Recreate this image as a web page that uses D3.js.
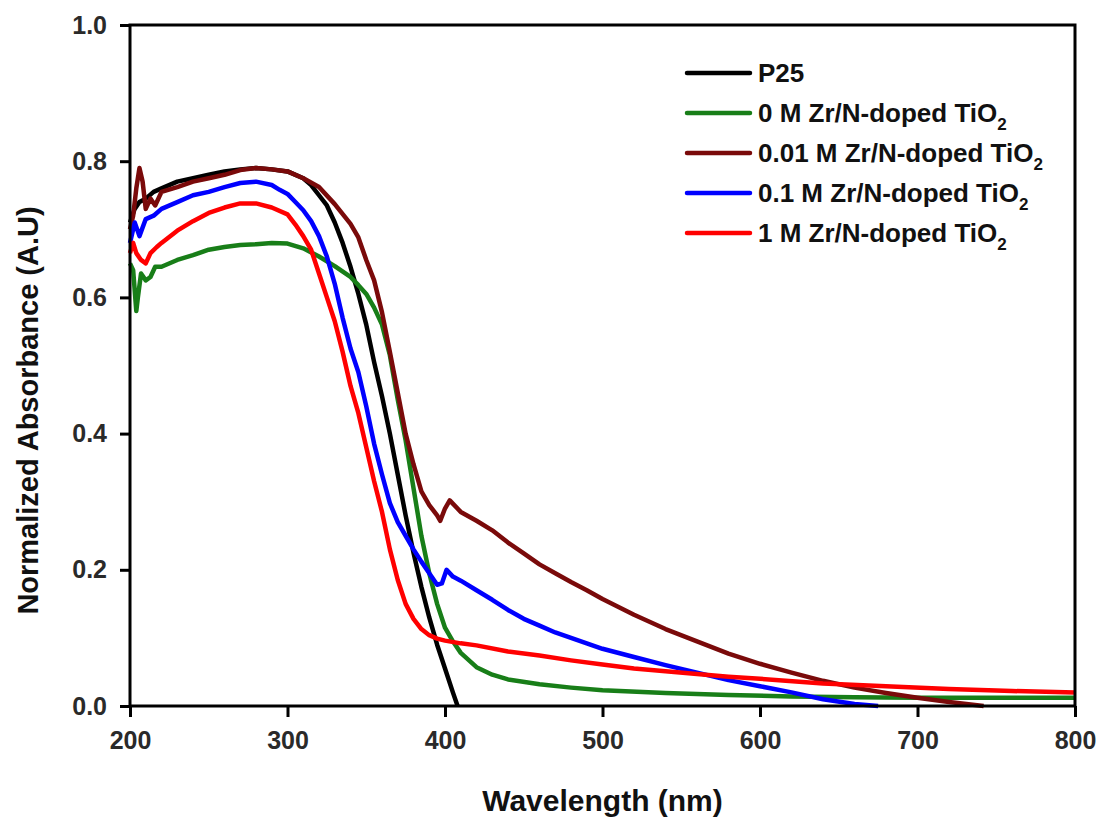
<!DOCTYPE html>
<html>
<head>
<meta charset="utf-8">
<script src="https://cdn.jsdelivr.net/npm/d3@7"></script>
<style>
  body { margin: 0; background: #fff; }
  text { font-family: "Liberation Sans", Arial, sans-serif; font-weight: bold; }
</style>
</head>
<body>
<div id="chart"></div>
<script>
// wavelength (nm), normalized absorbance
var p25 = [[200,0.71],[203,0.73],[206,0.74],[210,0.745],[215,0.755],[220,0.76],[230,0.77],[240,0.775],[250,0.78],[260,0.785],[270,0.788],[280,0.79],[290,0.788],[300,0.785],[310,0.775],[315,0.765],[320,0.75],[325,0.735],[330,0.71],[335,0.68],[340,0.645],[345,0.605],[350,0.56],[355,0.505],[360,0.455],[365,0.40],[370,0.34],[375,0.28],[380,0.225],[385,0.175],[390,0.13],[395,0.09],[400,0.055],[405,0.02],[408,0.0]];

var zr0 = [[200,0.65],[202,0.64],[204,0.58],[205,0.60],[207,0.635],[210,0.625],[213,0.63],[216,0.645],[220,0.645],[230,0.655],[240,0.662],[250,0.67],[260,0.674],[270,0.677],[280,0.678],[290,0.68],[300,0.679],[310,0.672],[320,0.66],[330,0.646],[340,0.63],[345,0.618],[350,0.605],[355,0.585],[360,0.56],[365,0.515],[370,0.45],[375,0.39],[380,0.32],[385,0.25],[390,0.195],[395,0.15],[400,0.115],[405,0.095],[410,0.078],[420,0.057],[430,0.046],[440,0.039],[460,0.032],[480,0.027],[500,0.023],[540,0.019],[580,0.016],[620,0.014],[660,0.013],[700,0.012],[800,0.012]];

var zr001 = [[200,0.70],[202,0.72],[204,0.76],[206,0.79],[208,0.77],[210,0.73],[213,0.745],[216,0.735],[220,0.755],[230,0.762],[240,0.77],[250,0.775],[260,0.78],[270,0.787],[280,0.79],[290,0.788],[300,0.785],[310,0.775],[320,0.762],[330,0.737],[340,0.708],[345,0.688],[350,0.655],[355,0.625],[360,0.578],[365,0.52],[370,0.46],[375,0.40],[380,0.355],[385,0.315],[390,0.295],[395,0.28],[397,0.272],[400,0.29],[403,0.302],[410,0.285],[420,0.272],[430,0.258],[440,0.24],[450,0.224],[460,0.208],[470,0.195],[480,0.182],[490,0.17],[500,0.157],[520,0.134],[540,0.113],[560,0.095],[580,0.077],[600,0.062],[620,0.049],[640,0.037],[660,0.027],[680,0.019],[700,0.012],[720,0.006],[742,0.0]];

var zr01 = [[200,0.68],[203,0.71],[206,0.69],[210,0.715],[215,0.72],[220,0.73],[230,0.74],[240,0.75],[250,0.755],[260,0.762],[270,0.768],[280,0.77],[290,0.765],[295,0.758],[300,0.752],[305,0.74],[310,0.728],[315,0.712],[320,0.69],[325,0.66],[330,0.62],[335,0.57],[340,0.525],[345,0.49],[350,0.44],[355,0.385],[360,0.34],[365,0.298],[370,0.27],[375,0.25],[380,0.23],[385,0.212],[390,0.195],[395,0.178],[398,0.18],[401,0.20],[405,0.19],[410,0.184],[420,0.17],[430,0.156],[440,0.141],[450,0.128],[460,0.118],[470,0.108],[480,0.1],[490,0.092],[500,0.084],[520,0.072],[540,0.06],[560,0.049],[580,0.038],[600,0.029],[620,0.02],[640,0.01],[660,0.003],[675,0.0]];

var zr1 = [[200,0.665],[202,0.68],[204,0.665],[207,0.655],[210,0.65],[213,0.665],[217,0.674],[220,0.68],[230,0.698],[240,0.712],[250,0.724],[260,0.732],[270,0.738],[280,0.738],[290,0.732],[300,0.722],[305,0.707],[310,0.69],[315,0.67],[320,0.635],[325,0.60],[330,0.565],[335,0.52],[340,0.47],[345,0.43],[350,0.38],[355,0.33],[360,0.285],[365,0.23],[370,0.185],[375,0.15],[380,0.128],[385,0.113],[390,0.104],[395,0.099],[400,0.096],[410,0.092],[420,0.089],[440,0.08],[460,0.074],[480,0.067],[500,0.061],[520,0.055],[540,0.051],[560,0.047],[580,0.043],[600,0.04],[640,0.033],[680,0.029],[720,0.025],[760,0.022],[800,0.02]];

var seriesNames = ["P25", "0 M Zr/N-doped TiO", "0.01 M Zr/N-doped TiO", "0.1 M Zr/N-doped TiO", "1 M Zr/N-doped TiO"];
var seriesSub = ["", "2", "2", "2", "2"];
var seriesColors = ["#000000", "#187e18", "#7a0a0a", "#0000ff", "#ff0000"];
var seriesData = [p25, zr0, zr001, zr01, zr1];

var xTicks = [200, 300, 400, 500, 600, 700, 800];
var yTicks = [0.0, 0.2, 0.4, 0.6, 0.8, 1.0];

var W = 1101, H = 821;
var margin = {top: 25, right: 26, bottom: 115, left: 130};
var width = W - margin.left - margin.right,
    height = H - margin.top - margin.bottom;

var svg = d3.select("#chart").append("svg").attr("width", W).attr("height", H);
var g = svg.append("g").attr("transform", "translate(" + margin.left + "," + margin.top + ")");

var x = d3.scaleLinear().domain([200, 800]).range([0, width]);
var y = d3.scaleLinear().domain([0, 1]).range([height, 0]);

// lines
var line = d3.line()
    .x(function(d){ return x(d[0]); })
    .y(function(d){ return y(d[1]); });

for (var i = 0; i < seriesData.length; i++) {
    g.append("path")
        .datum(seriesData[i])
        .attr("fill", "none")
        .attr("stroke", seriesColors[i])
        .attr("stroke-width", 4.5)
        .attr("stroke-linejoin", "round")
        .attr("d", line);
}

// frame
g.append("rect")
    .attr("x", 0).attr("y", 0)
    .attr("width", width).attr("height", height)
    .attr("fill", "none").attr("stroke", "#000").attr("stroke-width", 3);

// axes
var xAxis = g.append("g").attr("transform", "translate(0," + height + ")")
    .call(d3.axisBottom(x).tickValues(xTicks).tickSize(11).tickPadding(14).tickFormat(d3.format("d")));
var yAxis = g.append("g")
    .call(d3.axisLeft(y).tickValues(yTicks).tickSize(10).tickPadding(13).tickFormat(d3.format(".1f")));

[xAxis, yAxis].forEach(function(a){
    a.select(".domain").remove();
    a.selectAll(".tick line").attr("stroke", "#000").attr("stroke-width", 3);
    a.selectAll(".tick text")
        .attr("fill", "#2a2a2a")
        .style("font-size", "25px")
        .style("font-family", "'Liberation Sans', Arial, sans-serif")
        .style("font-weight", "bold");
});

// axis titles
svg.append("text")
    .attr("x", margin.left + width / 2)
    .attr("y", 811)
    .attr("text-anchor", "middle")
    .style("font-size", "30px")
    .attr("fill", "#111")
    .text("Wavelength (nm)");

svg.append("text")
    .attr("transform", "translate(38," + (margin.top + height / 2 + 45) + ") rotate(-90)")
    .attr("text-anchor", "middle")
    .style("font-size", "29px")
    .attr("fill", "#111")
    .text("Normalized Absorbance (A.U)");

// legend
var legend = svg.append("g").attr("transform", "translate(687,73)");
for (var j = 0; j < seriesNames.length; j++) {
    var row = legend.append("g").attr("transform", "translate(0," + (j * 40) + ")");
    row.append("line")
        .attr("x1", 0).attr("x2", 63)
        .attr("y1", 0).attr("y2", 0)
        .attr("stroke", seriesColors[j])
        .attr("stroke-width", 4.5)
        .attr("stroke-linecap", "round");
    var t = row.append("text")
        .attr("x", 71).attr("y", 9)
        .style("font-size", "26px")
        .attr("fill", "#111")
        .text(seriesNames[j]);
    if (seriesSub[j]) {
        t.append("tspan")
            .attr("dy", 8)
            .style("font-size", "17px")
            .text(seriesSub[j]);
    }
}
</script>
</body>
</html>
